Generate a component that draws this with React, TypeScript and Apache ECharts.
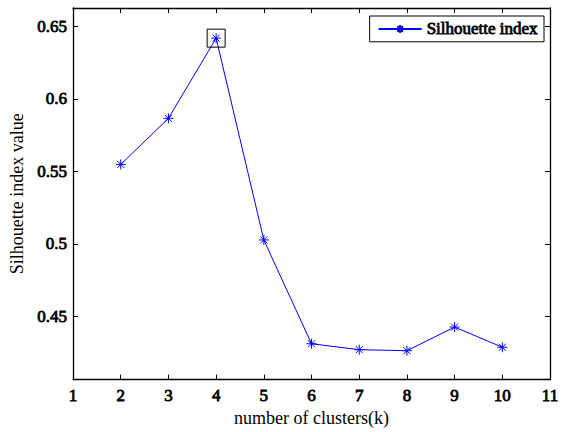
import React, { useEffect, useRef } from "react";
import * as echarts from "echarts";

const clusters = [2, 3, 4, 5, 6, 7, 8, 9, 10];
const silhouette = [0.5548, 0.5866, 0.6419, 0.5027, 0.4311, 0.4270, 0.4263, 0.4426, 0.4287];
const yTickValues = [0.45, 0.5, 0.55, 0.6, 0.65];
const bestK = 4;
const seriesName = "Silhouette index";

const FONT = "Liberation Serif";
const STAR = "path://M10 0 L10 20 M0 10 L20 10 M3 3 L17 17 M17 3 L3 17";

export default function App() {
  const ref = useRef<HTMLDivElement>(null);
  useEffect(() => {
    if (!ref.current) return;
    const chart = echarts.init(ref.current, null, { renderer: "svg" });
    const bestIdx = clusters.indexOf(bestK);
    const axisLine = { show: true, onZero: false, lineStyle: { color: "#000", width: 1.3 } };
    const tick = { show: true, inside: true, length: 5, lineStyle: { color: "#000", width: 1 } };
    const boldText = {
      color: "#000",
      fontFamily: FONT,
      fontWeight: "normal" as const,
      fontSize: 17,
      textBorderColor: "#000",
      textBorderWidth: 0.8,
    };
    chart.setOption({
      animation: false,
      backgroundColor: "#fff",
      textStyle: { fontFamily: FONT },
      grid: { left: 70, right: 13, top: 8, bottom: 46, containLabel: false },
      legend: {
        right: 19,
        top: 16,
        backgroundColor: "#fff",
        borderColor: "#000",
        borderWidth: 1,
        borderRadius: 0,
        padding: [4, 6, 4, 8],
        itemWidth: 43,
        itemHeight: 10,
        itemGap: 6,
        textStyle: { ...boldText },
        data: [seriesName],
      },
      xAxis: [
        {
          type: "value",
          min: 1,
          max: 11,
          interval: 1,
          position: "bottom",
          axisLine,
          axisTick: tick,
          splitLine: { show: false },
          axisLabel: { ...boldText, margin: 7 },
          name: "number of clusters(k)",
          nameLocation: "middle",
          nameGap: 28,
          nameTextStyle: { color: "#000", fontFamily: FONT, fontSize: 18 },
        },
        {
          type: "value",
          min: 1,
          max: 11,
          interval: 1,
          position: "top",
          axisLine,
          axisTick: tick,
          splitLine: { show: false },
          axisLabel: { show: false },
        },
      ],
      yAxis: [
        {
          type: "value",
          min: 0.4063,
          max: 0.6627,
          position: "left",
          axisLine,
          axisTick: { ...tick, customValues: yTickValues },
          splitLine: { show: false },
          axisLabel: { ...boldText, margin: 6, customValues: yTickValues },
          name: "Silhouette index value",
          nameLocation: "middle",
          nameGap: 40,
          nameTextStyle: { color: "#000", fontFamily: FONT, fontSize: 18 },
        },
        {
          type: "value",
          min: 0.4063,
          max: 0.6627,
          position: "right",
          axisLine,
          axisTick: { ...tick, customValues: yTickValues },
          splitLine: { show: false },
          axisLabel: { show: false, customValues: yTickValues },
        },
      ],
      series: [
        {
          name: seriesName,
          type: "line",
          xAxisIndex: 0,
          yAxisIndex: 0,
          data: clusters.map((k, i) => [k, silhouette[i]]),
          symbol: STAR,
          symbolSize: 10,
          showAllSymbol: true,
          lineStyle: { color: "#0000ff", width: 1 },
          itemStyle: { color: "#0000ff", borderColor: "#0000ff", borderWidth: 1 },
          markPoint: {
            symbol: "rect",
            symbolSize: 18,
            silent: true,
            label: { show: false },
            itemStyle: { color: "rgba(0,0,0,0)", borderColor: "#000", borderWidth: 1 },
            data: [{ coord: [bestK, silhouette[bestIdx]] }],
          },
        },
      ],
    });
    return () => chart.dispose();
  }, []);
  return (
    <div
      ref={ref}
      style={{ position: "absolute", left: 0, top: 0, width: 563, height: 432 }}
    />
  );
}
